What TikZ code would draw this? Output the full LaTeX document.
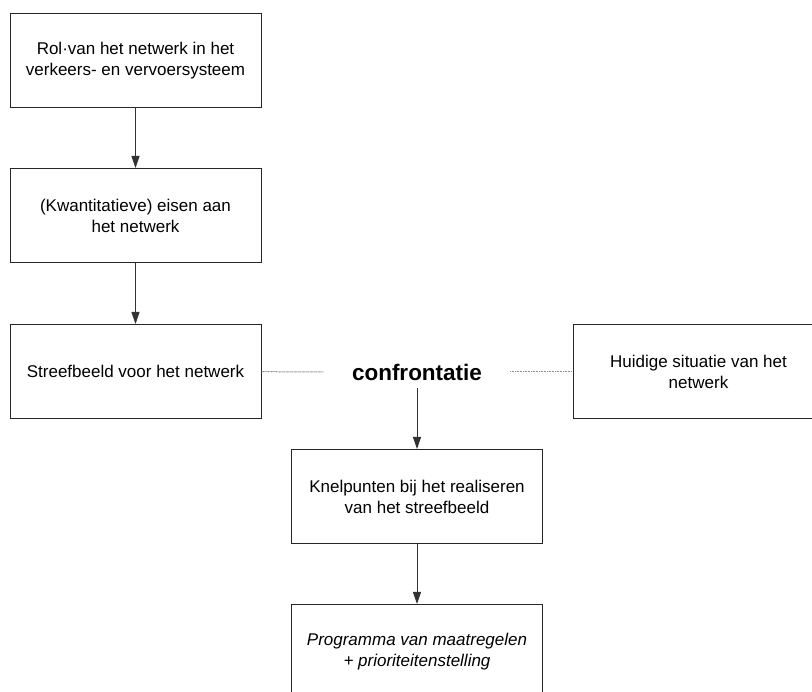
\documentclass[tikz,border=0pt]{standalone}
\usepackage{fontspec}
\setmainfont{Liberation Sans}
\usetikzlibrary{positioning,arrows.meta}

\begin{document}
\begin{tikzpicture}[x=1pt, y=-1pt,
  box/.style={shape=rectangle, draw=black!85, line width=1pt, minimum width=251pt, minimum height=94pt, align=center, font=\fontsize{17}{21}\selectfont},
  flow/.style={-{Triangle[length=12pt,width=8pt]}, line width=1pt, draw=black!80},
  link/.style={line width=1pt, draw=black!45, dash pattern=on 1pt off 0.6pt}]
\useasboundingbox (0,0) rectangle (812,692);
\clip (0,0) rectangle (812,692);
\node[box] (rol) at (135.5,60.5) {Rol·van het netwerk in het\\verkeers- en vervoersysteem};
\node[box] (eisen) at (135.5,215.5) {(Kwantitatieve) eisen aan\\het netwerk};
\node[box] (streef) at (135.5,371.5) {Streefbeeld voor het netwerk};
\node[inner xsep=28pt, inner ysep=0pt, minimum height=32pt, font=\fontsize{22.5}{26}\selectfont\bfseries] (conf) at (417,372) {confrontatie};
\node[box] (huidig) at (698.5,372) {Huidige situatie van het\\netwerk};
\node[box] (knel) at (417,496.5) {Knelpunten bij het realiseren\\van het streefbeeld};
\node[box, font=\fontsize{17}{21}\selectfont\itshape] (prog) at (417,651.5) {Programma van maatregelen\\+ prioriteitenstelling};
\draw[flow] (rol) -- (eisen);
\draw[flow] (eisen) -- (streef);
\draw[link] (streef) -- (conf);
\draw[link] (conf) -- (huidig);
\draw[flow] (conf) -- (knel);
\draw[flow] (knel) -- (prog);
\end{tikzpicture}
\end{document}
